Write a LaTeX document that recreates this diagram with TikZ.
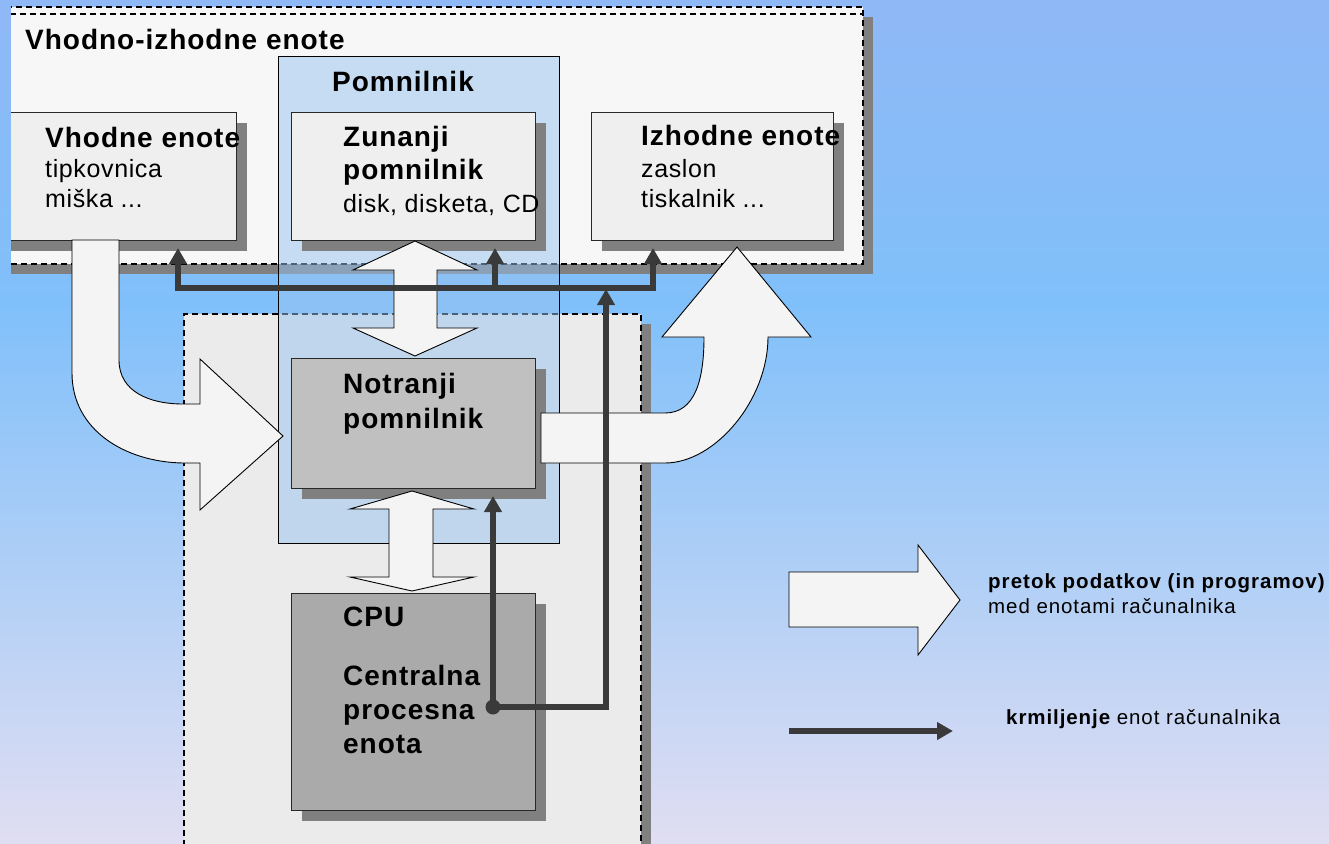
\documentclass[tikz,border=0pt]{standalone}
\usepackage{fontspec}
\setmainfont{Liberation Sans}
\usetikzlibrary{arrows.meta,shadows}
\definecolor{bgT}{RGB}{143,184,246}
\definecolor{bgM}{RGB}{128,192,250}
\definecolor{bgB}{RGB}{224,222,242}
\definecolor{shadowC}{RGB}{128,128,128}
\definecolor{ioF}{RGB}{247,247,247}
\definecolor{boxF}{RGB}{239,239,239}
\definecolor{lowF}{RGB}{235,235,235}
\definecolor{pomF}{RGB}{150,195,240}
\definecolor{notrF}{RGB}{192,192,192}
\definecolor{cpuF}{RGB}{170,170,170}
\definecolor{arrF}{RGB}{244,244,244}
\definecolor{ctrlC}{RGB}{58,58,58}
\definecolor{edgeC}{RGB}{40,40,40}
\pgfdeclareverticalshading{bgshade}{100bp}{color(0bp)=(bgB); color(25bp)=(bgB); color(57bp)=(bgM); color(75bp)=(bgT); color(100bp)=(bgT)}
\begin{document}
\begin{tikzpicture}[x=1pt,y=-1pt,
  shadowed/.style={drop shadow={shadow xshift=10pt, shadow yshift=-10pt, fill=shadowC, opacity=1}},
  dshbox/.style={draw=black, line width=1.6pt, dash pattern=on 6pt off 4pt, inner sep=0, anchor=north west, shadowed},
  unitbox/.style={draw=edgeC, line width=1.2pt, fill=boxF, inner sep=0, anchor=north west, shadowed},
  blk/.style={fill=arrF, draw=black, line width=0.9pt, line join=miter},
  ctrl/.style={line width=5.5pt, draw=ctrlC, -{Triangle[width=17pt,length=16pt]}},
  ctrl2/.style={line width=5.5pt, draw=ctrlC, {Triangle[width=17pt,length=16pt]}-{Triangle[width=17pt,length=16pt]}},
  bt/.style={font=\fontsize{28}{32}\selectfont\bfseries\addfontfeature{LetterSpace=3.5}, anchor=base west, inner sep=0},
  rt/.style={font=\fontsize{25}{29}\selectfont\addfontfeature{LetterSpace=2.5}, anchor=base west, inner sep=0},
  lbt/.style={font=\fontsize{20.5}{24}\selectfont\bfseries\addfontfeature{LetterSpace=5}, anchor=base west, inner sep=0},
  lrt/.style={font=\fontsize{20.5}{24}\selectfont\addfontfeature{LetterSpace=4.5}, anchor=base west, inner sep=0}]
\useasboundingbox (0,0) rectangle (1329,843);
\clip (0,0) rectangle (1329,843);
\shade[shading=bgshade] (0,0) rectangle (1329,843);

% ---------- I/O outer box and input box (clipped at left) ----------
\begin{scope}
\clip (11,0) rectangle (1329,843);
\node[dshbox, fill=ioF, minimum width=862pt, minimum height=257pt] (io) at (0,6) {};
\coordinate (ioTop2) at (0,14);
\draw[line width=1.6pt, dash pattern=on 6pt off 4pt] (ioTop2) -- (io.east |- ioTop2);
\node[unitbox, minimum width=236pt, minimum height=128pt] (vhod) at (0,112) {};
\end{scope}

\node[unitbox, minimum width=242pt, minimum height=128pt] (izh) at (591,112) {};

% ---------- lower (processing) box ----------
\node[dshbox, fill=lowF, minimum width=457pt, minimum height=560pt] (low) at (183,313) {};

% ---------- memory overlay ----------
\node[draw=black, line width=1pt, fill=pomF, fill opacity=0.5, minimum width=281pt,
      minimum height=487pt, anchor=north west, inner sep=0] (pom) at (278,56) {};

% ---------- inner boxes ----------
\node[unitbox, minimum width=244pt, minimum height=128pt] (zun) at (291,112) {};
\node[unitbox, fill=notrF, minimum width=244pt, minimum height=130pt] (notr) at (291,358) {};
\node[unitbox, fill=cpuF, minimum width=244pt, minimum height=217pt] (cpu) at (291,593) {};

% ---------- data flow block arrows ----------
\draw[blk] (415,241) -- (477,270) -- (437,270) -- (437,328) -- (477,328) -- (415,356)
  -- (353,328) -- (394,328) -- (394,270) -- (353,270) -- cycle;
\draw[blk] (412,491) -- (474,509) -- (433,509) -- (433,577) -- (474,577) -- (412,591)
  -- (350,577) -- (389,577) -- (389,509) -- (350,509) -- cycle;
\draw[blk] (72,240) -- (119,240) -- (119,360) .. controls (119,392) and (150,404) .. (183,404)
  -- (200,404) -- (200,359) -- (283,436) -- (200,510) -- (200,463) -- (183,463)
  .. controls (125,462) and (72,430) .. (72,373) -- cycle;
\draw[blk] (541,413) -- (665,413) .. controls (695,413) and (704,380) .. (704,337)
  -- (662,337) -- (737,247) -- (811,337) -- (768,337)
  .. controls (768,400) and (715,463) .. (665,463) -- (541,463) -- cycle;

% ---------- control lines ----------
\coordinate (dot) at (493,707);
\coordinate (notrIn) at (493,496);
\coordinate (cpuCorner) at (606,707);
\coordinate (busIn) at (606,289);
\coordinate (busL) at (178,288);
\coordinate (busM) at (495,288);
\coordinate (busR) at (653,288);
\coordinate (vhodIn) at (178,248);
\coordinate (zunIn) at (495,248);
\coordinate (izhIn) at (653,248);
\draw[ctrl] (dot) -- (notrIn);
\draw[ctrl] (dot) -- (cpuCorner) -- (busIn);
\draw[ctrl2] (vhodIn) -- (busL) -- (busR) -- (izhIn);
\draw[ctrl] (busM) -- (zunIn);
\fill[ctrlC] (dot) circle (7.5pt);

% ---------- texts ----------
\node[bt] (tIO) at (25,50) {Vhodno-izhodne enote};
\node[bt] (tPom) at (332,91) {Pomnilnik};
\node[bt] (tV1) at (45,147) {Vhodne enote};
\node[rt] (tV2) at (45,177) {tipkovnica};
\node[rt] (tV3) at (45,207) {miška ...};
\node[bt] (tZ1) at (343,146) {Zunanji};
\node[bt] (tZ2) at (343,179) {pomnilnik};
\node[rt] (tZ3) at (343,212) {disk, disketa, CD};
\node[bt] (tI1) at (641,145) {Izhodne enote};
\node[rt] (tI2) at (641,177) {zaslon};
\node[rt] (tI3) at (641,207) {tiskalnik ...};
\node[bt] (tN1) at (343,393) {Notranji};
\node[bt] (tN2) at (343,428) {pomnilnik};
\node[bt] (tC1) at (343,626) {CPU};
\node[bt] (tC2) at (343,685) {Centralna};
\node[bt] (tC3) at (343,719) {procesna};
\node[bt] (tC4) at (343,753) {enota};

% ---------- legend ----------
\draw[blk] (789,572) -- (918,572) -- (918,545) -- (960,600) -- (918,655) -- (918,627) -- (789,627) -- cycle;
\node[lbt] (lg1) at (988,588) {pretok podatkov (in programov)};
\node[lrt] (lg2) at (988,613) {med enotami računalnika};
\coordinate (lgS) at (789,731);
\coordinate (lgE) at (953,731);
\draw[ctrl] (lgS) -- (lgE);
\node[lrt] (lg3) at (1006,724) {{\bfseries krmiljenje} enot računalnika};
\end{tikzpicture}
\end{document}
